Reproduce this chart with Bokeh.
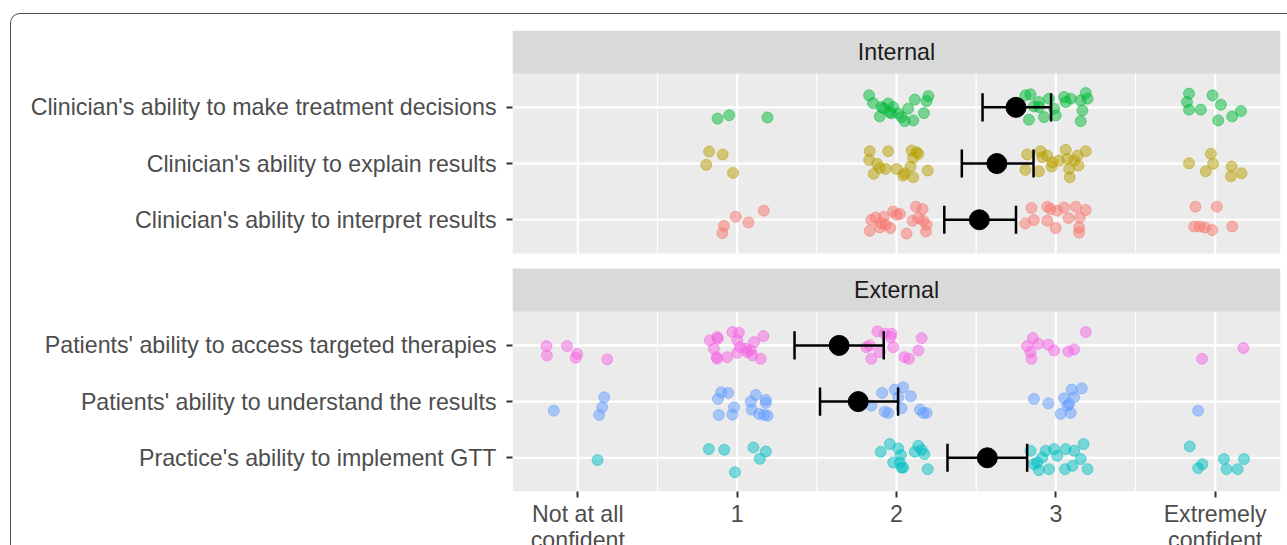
from bokeh.plotting import figure
from bokeh.models import Range1d, FixedTicker, ColumnDataSource, ScrollBox
from bokeh.core.properties import value
from bokeh.embed import file_html
from bokeh.resources import INLINE

# ---------------- data ----------------
facets = ["Internal", "External"]
internal_items = ["Clinician's ability to interpret results",
                  "Clinician's ability to explain results",
                  "Clinician's ability to make treatment decisions"]   # bottom -> top
external_items = ["Practice's ability to implement GTT",
                  "Patients' ability to understand the results",
                  "Patients' ability to access targeted therapies"]    # bottom -> top

item_colors = {
    "Clinician's ability to interpret results": "#F8766D",
    "Clinician's ability to explain results": "#B79F00",
    "Clinician's ability to make treatment decisions": "#00BA38",
    "Practice's ability to implement GTT": "#00BFC4",
    "Patients' ability to understand the results": "#619CFF",
    "Patients' ability to access targeted therapies": "#F564E3",
}

x_tick_values = [0, 1, 2, 3, 4]
x_tick_labels = ["Not at all\nconfident", "1", "2", "3", "Extremely\nconfident"]

# jittered responses (x) and vertical jitter (dy)
treat_x = [0.877, 0.95, 1.19,
           1.828, 1.853, 1.895, 1.920, 1.948, 1.958, 1.979, 2.011, 2.032, 2.052, 2.073, 2.105, 2.115, 2.172, 2.189, 2.200, 1.905, 1.968,
           2.809, 2.841, 2.831, 2.894, 2.894, 2.926, 2.957, 2.989, 2.999, 3.052, 3.062, 3.093, 3.156, 3.167, 3.156, 3.188, 3.199, 2.862,
           3.836, 3.823, 3.836, 3.910, 3.983, 4.036, 4.019, 4.107, 4.162]
treat_dy = [-0.2, -0.14, -0.18,
            0.214, 0.077, -0.161, -0.018, 0.071, -0.084, 0.005, -0.107, -0.173, -0.245, -0.023, -0.232, 0.138, -0.102, 0.113, 0.202, 0.005, -0.107,
            0.214, 0.232, -0.220, 0.095, 0.005, -0.173, 0.155, -0.023, -0.143, 0.184, 0.095, 0.155, 0.125, -0.054, -0.245, 0.255, 0.155, 0.018,
            0.245, 0.095, -0.041, -0.041, 0.214, 0.048, -0.232, -0.161, -0.066]

explain_x = [0.824, 0.909, 0.806, 0.974,
             1.832, 1.828, 1.948, 1.878, 1.895, 1.857, 1.932, 2.000, 2.052, 2.042, 2.088, 2.105, 2.095, 2.126, 2.137, 2.105, 2.196,
             2.820, 2.809, 2.894, 2.904, 2.915, 2.946, 2.978, 2.974, 3.062, 3.073, 3.083, 3.087, 3.136, 3.142, 3.188, 3.020, 3.115,
             3.836, 3.973, 3.941, 3.987, 4.103, 4.099, 4.166]
explain_dy = [0.214, 0.161, -0.023, -0.166,
              0.220, 0.066, 0.220, -0.005, -0.077, -0.184, -0.095, -0.095, -0.173, -0.214, -0.054, -0.245, 0.232, 0.202, 0.173, 0.102, -0.125,
              0.161, -0.113, -0.138, 0.220, 0.113, 0.143, 0.023, -0.054, 0.245, 0.084, -0.095, -0.245, 0.143, -0.036, 0.220, 0.054, 0.054,
              0.005, 0.173, -0.138, -0.005, -0.054, -0.227, -0.173]

interp_x = [0.991, 0.917, 0.907, 1.071, 1.167,
            1.842, 1.832, 1.869, 1.895, 1.920, 1.932, 1.962, 1.979, 2.000, 2.021, 2.063, 2.101, 2.122, 2.137, 2.164, 2.168, 2.189, 2.185, 1.905,
            2.847, 2.809, 2.862, 2.946, 2.967, 2.946, 2.999, 3.009, 3.052, 3.079, 3.125, 3.150, 3.146, 3.146, 3.188,
            3.876, 4.011, 3.868, 3.903, 3.935, 3.981, 4.107]
interp_dy = [0.054, -0.107, -0.238, -0.048, 0.161,
             -0.005, -0.196, 0.041, -0.138, 0.054, -0.089, -0.148, 0.148, 0.089, 0.102, -0.245, -0.018, 0.232, 0.030, 0.191, -0.018, -0.089, -0.209, -0.066,
             0.209, -0.066, -0.005, 0.232, 0.191, -0.018, -0.148, 0.161, 0.220, 0.030, 0.232, 0.041, -0.138, -0.227, 0.173,
             0.232, 0.232, -0.120, -0.120, -0.138, -0.184, -0.120]

access_x = [-0.197, -0.194, -0.068, -0.004, -0.013, 0.185,
            0.828, 0.875, 0.879, 0.854, 0.871, 0.875, 0.938, 0.970, 1.011, 1.001, 1.018, 1.001, 1.054, 1.064, 1.085, 1.106, 1.096, 1.148, 1.165,
            1.880, 1.926, 1.968, 1.964, 1.811, 1.832, 1.842, 1.895, 1.979, 2.049, 2.078, 2.137, 2.158,
            2.856, 2.820, 2.841, 2.847, 2.890, 2.953, 2.989, 3.079, 3.115, 3.188,
            3.918, 4.177]
access_dy = [-0.013, -0.179, -0.013, -0.149, -0.220, -0.250,
             0.089, 0.148, 0.119, -0.059, -0.209, -0.238, -0.209, 0.237, 0.226, 0.089, -0.031, -0.131, -0.059, -0.120, -0.090, 0.059, -0.179, -0.238, 0.166,
             0.250, 0.209, 0.209, 0.148, -0.031, 0.000, -0.238, -0.120, -0.031, -0.209, -0.238, -0.090, 0.130,
             0.130, -0.013, -0.120, -0.238, 0.030, 0.012, -0.090, -0.107, -0.072, 0.237,
             -0.238, -0.048]

underst_x = [-0.151, 0.166, 0.153, 0.134,
             0.900, 0.879, 0.944, 0.980, 0.885, 0.970, 1.085, 1.117, 1.180, 1.180, 1.091, 1.138, 1.169, 1.191,
             1.910, 1.989, 2.042, 2.011, 2.090, 1.842, 1.926, 1.948, 2.032, 2.147, 2.189, 2.168,
             2.862, 2.953, 3.030, 3.052, 3.083, 3.093, 3.100, 3.115, 3.163, 3.073,
             3.893]
underst_dy = [-0.161, 0.077, -0.102, -0.238,
              0.166, 0.048, 0.155, -0.102, -0.238, -0.232, 0.000, 0.119, 0.030, -0.023, -0.143, -0.220, -0.238, -0.250,
              0.155, 0.214, 0.255, 0.077, 0.094, -0.072, -0.179, -0.202, -0.120, -0.143, -0.202, -0.202,
              0.048, -0.031, -0.220, 0.059, -0.041, -0.202, 0.214, 0.077, 0.237, -0.072,
              -0.161]

practice_x = [0.124,
              0.822, 0.919, 0.986, 1.102, 1.180, 1.142,
              1.901, 1.958, 2.011, 2.027, 1.979, 2.021, 2.032, 2.042, 2.115, 2.137, 2.158, 2.175, 2.196,
              2.841, 2.862, 2.894, 2.936, 2.957, 2.989, 3.009, 3.062, 3.058, 3.104, 3.115, 3.156, 3.174, 3.199, 2.915, 2.883,
              3.840, 3.893, 3.920, 4.055, 4.071, 4.141, 4.181]
practice_dy = [-0.041,
               0.155, 0.143, -0.256, 0.184, 0.112, -0.018,
               0.107, 0.244, 0.166, 0.048, -0.084, -0.084, -0.174, -0.174, 0.107, 0.214, 0.143, 0.066, -0.202,
               0.125, -0.113, -0.220, 0.125, -0.202, 0.155, 0.035, 0.155, -0.202, -0.143, 0.125, -0.023, 0.244, -0.202, 0.005, -0.084,
               0.202, -0.184, -0.113, -0.023, -0.202, -0.202, -0.023]

points = {
    "Clinician's ability to interpret results": (interp_x, interp_dy),
    "Clinician's ability to explain results": (explain_x, explain_dy),
    "Clinician's ability to make treatment decisions": (treat_x, treat_dy),
    "Practice's ability to implement GTT": (practice_x, practice_dy),
    "Patients' ability to understand the results": (underst_x, underst_dy),
    "Patients' ability to access targeted therapies": (access_x, access_dy),
}

# mean and interval (bottom -> top within each facet)
internal_mean = [2.52, 2.63, 2.75]
internal_lo = [2.30, 2.41, 2.54]
internal_hi = [2.75, 2.86, 2.97]
external_mean = [2.57, 1.76, 1.64]
external_lo = [2.32, 1.52, 1.36]
external_hi = [2.82, 2.01, 1.92]

# ---------------- layout (facet geometry in y units) ----------------
EXP = 0.6
STRIP = 43 / 56
GAP = 15 / 56
ext_rows = [1.0, 2.0, 3.0]
ext_lo, ext_hi = 1 - EXP, 3 + EXP
ext_strip_hi = ext_hi + STRIP
int_lo = ext_strip_hi + GAP
int_rows = [round(int_lo + EXP + i, 4) for i in range(3)]
int_hi = int_rows[-1] + EXP
int_strip_hi = int_hi + STRIP
X0, X1 = -0.41, 4.41

FONT = "Liberation Sans"
FS = "23.2px"

p = figure(frame_width=768, frame_height=461,
           x_range=Range1d(X0, X1), y_range=Range1d(ext_lo, int_strip_hi),
           output_backend="svg", toolbar_location=None,
           min_border_left=501, min_border_right=6, min_border_top=16, min_border_bottom=10,
           background_fill_color="white", border_fill_color="white", outline_line_color=None)
p.xgrid.visible = False
p.ygrid.visible = False

# panel backgrounds and strips
p.quad(left=[X0, X0], right=[X1, X1], bottom=[ext_lo, int_lo], top=[ext_hi, int_hi],
       fill_color="#EBEBEB", line_color=None)
p.quad(left=[X0, X0], right=[X1, X1], bottom=[ext_hi, int_hi], top=[ext_strip_hi, int_strip_hi],
       fill_color="#D9D9D9", line_color=None)
p.text(x=[(X0 + X1) / 2] * 2,
       y=[(int_hi + int_strip_hi) / 2, (ext_hi + ext_strip_hi) / 2],
       text=facets, text_align="center", text_baseline="middle",
       text_font=value(FONT), text_font_size=FS, text_color="#1A1A1A")

# grid lines inside each panel
minor_x = [v + 0.5 for v in x_tick_values[:-1]]
for lo, hi, rows in [(int_lo, int_hi, int_rows), (ext_lo, ext_hi, ext_rows)]:
    p.segment(x0=minor_x, x1=minor_x, y0=[lo] * len(minor_x), y1=[hi] * len(minor_x),
              line_color="white", line_width=1.1)
    p.segment(x0=x_tick_values, x1=x_tick_values, y0=[lo] * 5, y1=[hi] * 5,
              line_color="white", line_width=2.2)
    p.segment(x0=[X0] * 3, x1=[X1] * 3, y0=rows, y1=rows, line_color="white", line_width=2.2)

# jittered points
all_items = internal_items + external_items
all_rows = int_rows + ext_rows
for item, row in zip(all_items, all_rows):
    xs, dys = points[item]
    src = ColumnDataSource(dict(x=xs, y=[row + d for d in dys]))
    p.scatter("x", "y", source=src, size=11, fill_color=item_colors[item], line_color=item_colors[item],
              fill_alpha=0.5, line_alpha=0.5, line_width=1)

# mean + interval
means = internal_mean + external_mean
los = internal_lo + external_lo
his = internal_hi + external_hi
p.segment(x0=los, x1=his, y0=all_rows, y1=all_rows, line_color="black", line_width=2.5)
p.segment(x0=los, x1=los, y0=[r - 0.25 for r in all_rows], y1=[r + 0.25 for r in all_rows],
          line_color="black", line_width=2.5)
p.segment(x0=his, x1=his, y0=[r - 0.25 for r in all_rows], y1=[r + 0.25 for r in all_rows],
          line_color="black", line_width=2.5)
p.scatter(x=means, y=all_rows, size=20, fill_color="black", line_color="black")

# axes
p.yaxis.ticker = FixedTicker(ticks=all_rows)
p.yaxis.major_label_overrides = {r: lab for r, lab in zip(all_rows, all_items)}
p.xaxis.ticker = FixedTicker(ticks=x_tick_values)
p.xaxis.major_label_overrides = {v: lab for v, lab in zip(x_tick_values, x_tick_labels)}
for ax in (p.xaxis, p.yaxis):
    ax.axis_line_color = None
    ax.minor_tick_line_color = None
    ax.major_tick_line_color = "#333333"
    ax.major_tick_line_width = 2
    ax.major_tick_out = 6
    ax.major_tick_in = 0
    ax.major_label_text_font = FONT
    ax.major_label_text_font_size = FS
    ax.major_label_text_color = "#4D4D4D"
p.yaxis.major_label_standoff = 10
p.xaxis.major_label_standoff = 3
p.xaxis.major_label_text_line_height = 1.0

root = ScrollBox(child=p, width=1277, height=532, margin=(13, 0, 0, 10),
                 horizontal_scrollbar="hidden", vertical_scrollbar="hidden",
                 styles={"border-top": "1px solid #4D4D4D", "border-left": "1px solid #4D4D4D",
                         "border-top-left-radius": "10px"})

open("out.html", "w").write(file_html(root, INLINE))
